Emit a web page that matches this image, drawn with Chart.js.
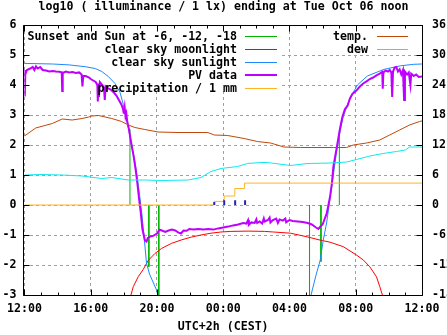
<!DOCTYPE html>
<html><head><meta charset="utf-8">
<script src="https://cdn.jsdelivr.net/npm/chart.js@4/dist/chart.umd.min.js"></script>
<style>html,body{margin:0;padding:0;background:#fff;}canvas{display:block;}</style>
</head><body>
<canvas id="c" width="447" height="335"></canvas>
<script>
// ---------- text ----------
const titleText = 'log10 ( illuminance / 1 lx) ending at Tue Oct 06 noon';
const xAxisTitle = 'UTC+2h (CEST)';
const xTickHours = [0, 4, 8, 12, 16, 20, 24];
const xTickLabels = ['12:00', '16:00', '20:00', '00:00', '04:00', '08:00', '12:00'];

// ---------- data (x = hours after 12:00 CEST) ----------
// Sunset and Sun at -6, -12, -18 (impulses)
const sunEventHours = [6.37, 7.51, 8.11, 17.21, 17.9, 19.01];
const sunEventValues = [2.53, -2.06, -3.6, -3.6, -1.89, 2.45];

// clear sky moonlight (log10 lx)
const moonHours = [6.3, 6.43, 6.57, 6.87, 7.17, 7.47, 7.87, 8.27, 8.87, 9.5, 10.07, 10.66, 11.26, 11.86, 12.46, 13.5, 14.5, 15.04, 16.06, 17.06, 17.85, 18.45, 19.25, 20.05, 20.45, 20.85, 21.25, 21.45, 21.61, 21.7];
const moonValues = [-3.5, -3.0, -2.72, -2.39, -2.15, -1.85, -1.62, -1.45, -1.28, -1.16, -1.07, -1.0, -0.94, -0.9, -0.88, -0.87, -0.88, -0.9, -0.94, -1.06, -1.17, -1.24, -1.39, -1.67, -1.83, -2.06, -2.39, -2.72, -3.0, -3.3];

// clear sky sunlight (log10 lx)
const sunHours = [0, 1.7, 2.7, 3.67, 4.27, 4.67, 5.07, 5.47, 5.77, 5.97, 6.17, 6.37, 6.57, 6.71, 6.83, 6.97, 7.07, 7.17, 7.37, 7.55, 7.97, 8.05, 8.3, 8.6,
  16.9, 17.3, 17.62, 17.85, 18.04, 18.24, 18.42, 18.6, 18.82, 19.02, 19.22, 19.5, 19.75, 20.1, 20.7, 21.7, 22.7, 23.5, 24];
const sunValues = [4.72, 4.70, 4.67, 4.61, 4.55, 4.45, 4.28, 4.05, 3.75, 3.35, 2.85, 2.3, 1.72, 1.3, 0.85, 0.25, -0.2, -0.75, -1.94, -2.3, -2.83, -3.0, -3.6, -4.5,
  -4.5, -3.0, -2.3, -1.85, -1.17, -0.6, 0.1, 0.8, 1.7, 2.35, 2.9, 3.35, 3.65, 4.0, 4.3, 4.52, 4.64, 4.69, 4.7];

// PV data (log10 lx)
const pvHours = [0, 0.02, 0.05, 0.15, 0.35, 0.5, 0.6, 0.7, 0.8, 0.95, 1.1, 1.3, 1.5, 1.7, 1.9, 2.1, 2.25, 2.28, 2.31, 2.5, 2.7, 2.9, 3.1, 3.3, 3.45, 3.5, 3.55, 3.7, 3.9, 4.0, 4.15, 4.3, 4.4, 4.43, 4.46, 4.5, 4.55, 4.7, 4.8, 4.85, 4.9, 5.0, 5.2, 5.4, 5.55, 5.7, 5.85, 5.95, 6.0, 6.05, 6.1, 6.15, 6.2, 6.3, 6.45, 6.6, 6.72, 6.82, 6.92, 7.02, 7.12, 7.27, 7.37,
  7.45, 7.6, 7.8, 8.0, 8.15, 8.3, 8.5, 8.7, 8.9, 9.1, 9.3, 9.45, 9.6, 9.8, 9.95, 10.2, 10.5, 10.8, 11.1, 11.4, 11.7, 12.0, 12.3, 12.6, 12.9, 13.2, 13.4, 13.5, 13.55, 13.7, 13.9, 14.0, 14.05, 14.2, 14.35, 14.45, 14.5, 14.7, 14.8, 14.85, 15.0, 15.2, 15.3, 15.4, 15.6, 15.75, 15.8, 16.0, 16.2, 16.5, 16.8, 17.1, 17.35, 17.6, 17.75, 17.85, 18.0, 18.1, 18.25, 18.35,
  18.45, 18.56, 18.65, 18.86, 19.05, 19.2, 19.35, 19.5, 19.65, 19.8, 20.05, 20.25, 20.45, 20.65, 20.85, 21.05, 21.25, 21.45, 21.6, 21.63, 21.67, 21.8, 21.95, 22.05, 22.15, 22.2, 22.25, 22.35, 22.45, 22.55, 22.65, 22.75, 22.85, 22.92, 22.97, 23.1, 23.2, 23.3, 23.35, 23.5, 23.65, 23.8, 24];
const pvValues = [4.5, 3.62, 4.35, 4.5, 4.55, 4.6, 4.5, 4.62, 4.55, 4.6, 4.5, 4.48, 4.45, 4.47, 4.45, 4.44, 4.42, 3.8, 4.4, 4.45, 4.42, 4.43, 4.4, 4.42, 4.35, 3.95, 4.3, 4.3, 4.25, 4.2, 4.15, 4.1, 4.0, 3.45, 4.05, 3.6, 4.1, 4.0, 3.9, 3.5, 3.95, 3.9, 3.85, 3.75, 3.65, 3.5, 3.35, 3.2, 3.05, 3.25, 2.95, 3.05, 2.8, 2.55, 2.05, 1.6, 1.15, 0.7, 0.2, -0.25, -0.8, -1.17, -1.22,
  -1.1, -1.05, -1.02, -0.95, -0.82, -0.85, -0.9, -0.85, -0.82, -0.85, -0.92, -0.95, -0.85, -0.86, -0.8, -0.82, -0.8, -0.82, -0.8, -0.82, -0.78, -0.75, -0.72, -0.68, -0.65, -0.6, -0.62, -0.5, -0.66, -0.58, -0.6, -0.48, -0.6, -0.55, -0.62, -0.45, -0.55, -0.5, -0.42, -0.58, -0.5, -0.45, -0.6, -0.48, -0.52, -0.45, -0.58, -0.5, -0.53, -0.55, -0.57, -0.6, -0.65, -0.75, -0.8, -0.72, -0.65, -0.5, -0.28, 0.0,
  0.28, 0.72, 1.28, 1.94, 2.55, 2.95, 3.2, 3.3, 3.55, 3.7, 3.82, 3.95, 4.05, 4.12, 4.2, 4.25, 4.32, 4.38, 4.44, 3.88, 4.42, 4.48, 4.45, 4.5, 4.42, 3.6, 4.45, 4.58, 4.6, 4.45, 4.52, 4.35, 4.5, 3.5, 4.45, 4.35, 4.42, 4.0, 4.38, 4.3, 4.35, 4.27, 4.28];

// precipitation, cumulative (mm)
const precipHours = [0, 11.45, 12.06, 12.7, 13.28, 24];
const precipValues = [0, 0.12, 0.3, 0.55, 0.73, 0.73];

// precipitation per interval (mm, impulses)
const rainHours = [11.46, 12.06, 12.72, 13.32];
const rainValues = [0.1, 0.16, 0.16, 0.16];

// temperature and dew point (deg C, right axis)
const tempHours = [0, 0.68, 1.68, 2.28, 2.88, 3.48, 3.88, 4.07, 4.48, 5.27, 5.87, 6.27, 6.67, 7.27, 8.07, 9.27, 11.07, 11.46, 12.27, 13.26, 14.06, 14.86, 15.66, 16.66, 18.65, 19.45, 19.85, 20.65, 21.45, 22.05, 22.65, 23.25, 23.85, 24];
const tempValues = [13.8, 15.4, 16.3, 17.2, 17.0, 17.3, 17.6, 17.8, 17.9, 17.3, 16.7, 16.0, 15.5, 15.1, 14.6, 14.5, 14.5, 14.0, 13.9, 13.3, 12.7, 12.4, 11.6, 11.5, 11.5, 11.5, 12.0, 12.4, 13.0, 14.0, 15.0, 16.0, 16.7, 16.8];
const dewHours = [0, 1.0, 2.28, 3.48, 4.67, 5.27, 6.27, 7.27, 8.27, 9.87, 10.66, 11.26, 11.86, 12.86, 13.46, 14.26, 14.66, 16.06, 17.06, 18.5, 19.45, 20.05, 20.85, 21.65, 22.45, 23.0, 23.25, 23.85, 24];
const dewValues = [6.0, 6.1, 6.0, 5.8, 5.3, 5.5, 5.0, 5.0, 4.9, 5.0, 5.5, 6.7, 7.3, 7.7, 8.3, 8.5, 8.5, 7.9, 8.3, 8.4, 8.6, 9.1, 9.8, 10.3, 10.7, 11.0, 11.6, 11.6, 11.6];

// ---------- helpers ----------
const pts = (hs, vs) => hs.map((h, i) => ({x: h, y: vs[i]}));
const impulses = (hs, vs) => hs.flatMap((h, i) => [{x: h, y: 0}, {x: h, y: vs[i]}, {x: h, y: null}]);

const FAM = '"DejaVu Sans Mono", "Liberation Mono", monospace';
const FONT = {family: FAM, size: 11.6, weight: 'bold', lineHeight: '14px'};
Chart.defaults.color = '#000';
Chart.defaults.font.family = FAM;

const base = {pointRadius: 0, pointHoverRadius: 0, borderWidth: 1, tension: 0, fill: false, spanGaps: false};

const datasets = [
  {...base, label: 'Sunset and Sun at -6, -12, -18', key: 'L', data: impulses(sunEventHours, sunEventValues), borderColor: '#00b400', order: 9},
  {...base, label: 'clear sky moonlight', key: 'L', data: pts(moonHours, moonValues), borderColor: '#ff0000', order: 8},
  {...base, label: 'clear sky sunlight', key: 'L', data: pts(sunHours, sunValues), borderColor: '#1e88ff', order: 7},
  {...base, label: 'PV data', key: 'L', data: pts(pvHours, pvValues), borderColor: '#c000ff', borderWidth: 2, order: 6},
  {...base, label: 'precipitation / 1 mm', key: 'L', data: pts(precipHours, precipValues), borderColor: '#ffb428', stepped: 'before', order: 5},
  {...base, label: 'rain', key: null, data: impulses(rainHours, rainValues), borderColor: '#2424b4', borderWidth: 2, order: 4},
  {...base, label: 'temp.', key: 'R', data: pts(tempHours, tempValues), borderColor: '#c04808', yAxisID: 'y2', order: 3},
  {...base, label: 'dew', key: 'R', data: pts(dewHours, dewValues), borderColor: '#10e8f0', yAxisID: 'y2', order: 2},
];

const gnuplotFrame = {
  id: 'gnuplotFrame',
  beforeDatasetsDraw(chart) {
    const ctx = chart.ctx, a = chart.chartArea;
    ctx.save();
    ctx.fillStyle = '#ffffff';
    ctx.fillRect(a.left + 1, a.top + 1, 281 - a.left, 90 - a.top);
    ctx.fillRect(326, a.top + 1, a.right - 327, 54 - a.top);
    ctx.restore();
  },
  afterDatasetsDraw(chart) {
    const ctx = chart.ctx;
    ctx.save();
    ctx.font = 'bold 11.6px ' + FAM;
    ctx.textBaseline = 'middle';
    ctx.textAlign = 'right';
    const rows = [36, 49, 62, 75, 88];
    const cols = {L: {textRight: 237, x1: 245, x2: 277}, R: {textRight: 368, x1: 377, x2: 408}};
    const count = {L: 0, R: 0};
    chart.data.datasets.forEach(ds => {
      if (!ds.key) return;
      const c = cols[ds.key];
      const y = rows[count[ds.key]++];
      ctx.fillStyle = '#000';
      ctx.fillText(ds.label, c.textRight, y + 1);
      ctx.strokeStyle = ds.borderColor;
      ctx.lineWidth = ds.borderWidth;
      ctx.beginPath();
      const yy = ds.borderWidth % 2 ? y + 0.5 : y;
      ctx.moveTo(c.x1, yy); ctx.lineTo(c.x2, yy);
      ctx.stroke();
    });
    ctx.restore();
  },
  afterDraw(chart) {
    const ctx = chart.ctx, a = chart.chartArea;
    const xs = chart.scales.x, ys = chart.scales.y, y2 = chart.scales.y2;
    const L = Math.round(a.left) - 0.5, R = Math.round(a.right) + 0.5;
    const T = Math.round(a.top) + 0.5, B = Math.round(a.bottom) + 0.5;
    ctx.save();
    ctx.strokeStyle = '#000';
    ctx.lineWidth = 1;
    ctx.beginPath();
    for (let h = 0; h <= 24; h++) {
      const px = Math.round(xs.getPixelForValue(h)) + 0.5;
      const len = h % 4 === 0 ? 6 : 3;
      ctx.moveTo(px, B); ctx.lineTo(px, B - len);
      ctx.moveTo(px, T); ctx.lineTo(px, T + len);
    }
    ys.ticks.forEach(t => {
      const py = Math.round(ys.getPixelForValue(t.value)) + 0.5;
      ctx.moveTo(L, py); ctx.lineTo(L + 6, py);
    });
    y2.ticks.forEach(t => {
      const py = Math.round(y2.getPixelForValue(t.value)) + 0.5;
      ctx.moveTo(R, py); ctx.lineTo(R - 6, py);
    });
    ctx.rect(L, T, R - L, B - T);
    ctx.stroke();
    ctx.restore();
  }
};

new Chart(document.getElementById('c'), {
  type: 'line',
  data: {datasets},
  options: {
    responsive: false,
    animation: false,
    devicePixelRatio: 1,
    layout: {padding: 0},
    plugins: {
      legend: {display: false},
      tooltip: {enabled: false},
      title: {display: true, text: titleText, color: '#000', font: FONT, padding: {top: 0, bottom: 11}}
    },
    scales: {
      x: {
        type: 'linear', min: 0, max: 24,
        ticks: {stepSize: 4, maxRotation: 0, autoSkip: false, padding: 7, color: '#000', font: FONT,
          callback: v => { const i = xTickHours.indexOf(v); return i >= 0 ? xTickLabels[i] : ''; }},
        grid: {color: '#a0a0a0', lineWidth: 1, drawTicks: false},
        border: {display: false, dash: [3, 3]},
        title: {display: true, text: xAxisTitle, color: '#000', font: FONT, padding: {top: 0, bottom: 1}},
        afterFit: s => { s.height = 40; }
      },
      y: {
        type: 'linear', position: 'left', min: -3, max: 6,
        ticks: {stepSize: 1, padding: 8, color: '#000', font: FONT},
        grid: {color: '#a0a0a0', lineWidth: 1, drawTicks: false},
        border: {display: false, dash: [3, 3]},
        afterFit: s => { s.width = 22; }
      },
      y2: {
        type: 'linear', position: 'right', min: -18, max: 36,
        ticks: {stepSize: 6, padding: 10, color: '#000', font: FONT},
        grid: {drawOnChartArea: false, drawTicks: false},
        border: {display: false},
        afterFit: s => { s.width = 25; }
      }
    }
  },
  plugins: [gnuplotFrame]
});
</script>
</body></html>
